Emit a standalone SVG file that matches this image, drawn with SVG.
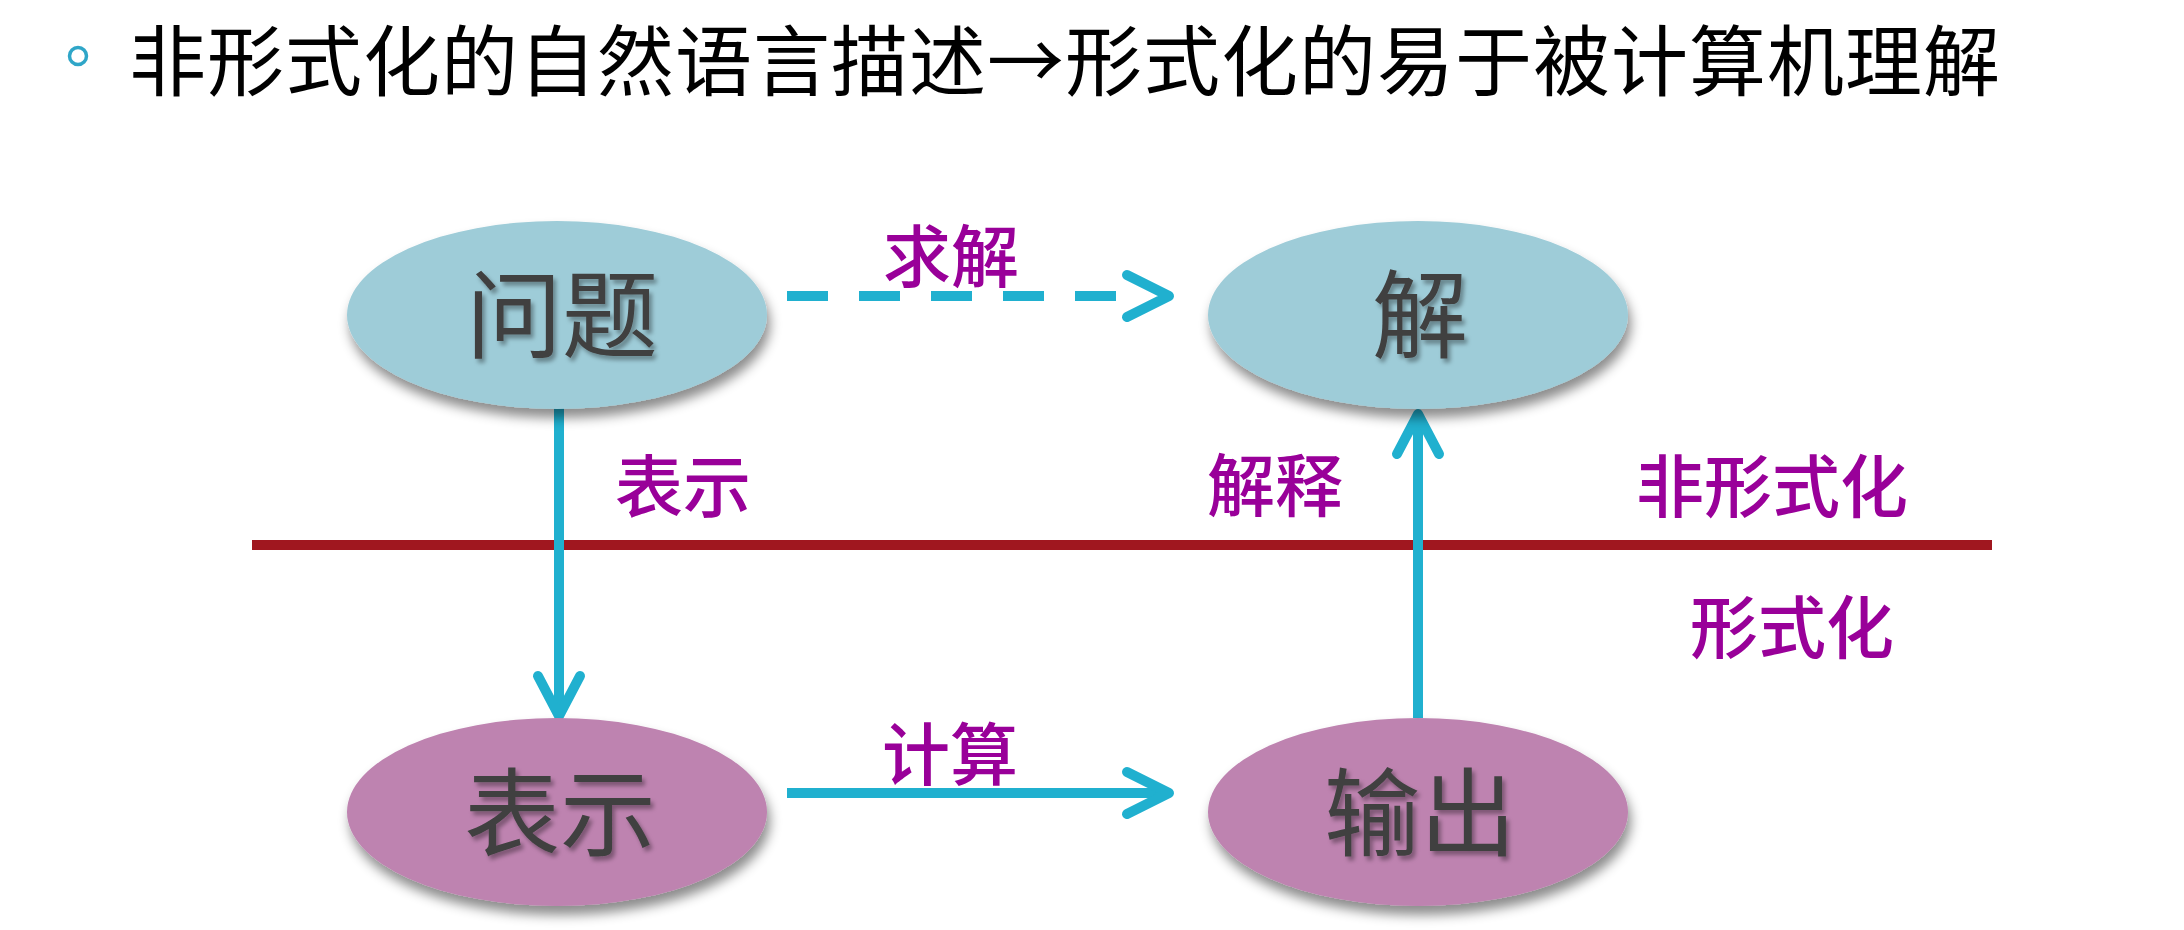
<svg xmlns="http://www.w3.org/2000/svg" width="2184" height="930" viewBox="0 0 2184 930">
  <defs>
    <filter id="shadow" x="-20%" y="-20%" width="140%" height="150%">
      <feDropShadow dx="3" dy="9" stdDeviation="6" flood-color="#000" flood-opacity="0.45"/>
    </filter>
    <filter id="tshadow" x="-10%" y="-10%" width="130%" height="130%">
      <feDropShadow dx="3" dy="4" stdDeviation="2" flood-color="#000" flood-opacity="0.35"/>
    </filter>
  </defs>
  <style>
    .cjk { font-family: "Noto Sans CJK SC", "Noto Sans", sans-serif; }
    .title { font-size: 77px; fill: #000; letter-spacing: 1px; }
    .node-blue { fill: #9ECCD8; filter: url(#shadow); }
    .node-purple { fill: #BE83B0; filter: url(#shadow); }
    .node-text { font-size: 96px; fill: #404040; text-anchor: middle; filter: url(#tshadow); }
    .label { font-size: 68px; font-weight: 500; fill: #990099; text-anchor: middle; }
    .line { stroke: #20B0CF; stroke-width: 10; fill: none; }
    .dash { stroke-dasharray: 41 31; }
    .head { stroke: #20B0CF; stroke-width: 10; fill: none; stroke-linecap: round; stroke-linejoin: round; }
    .divider { stroke: #A0171F; stroke-width: 10; }
  </style>
  <rect width="2184" height="930" fill="#fff"/>

  <g id="title">
    <circle cx="78" cy="56" r="8.5" fill="none" stroke="#2FA6C8" stroke-width="3.5"/>
    <text class="cjk title" x="129" y="90">非形式化的自然语言描述→形式化的易于被计算机理解</text>
  </g>

  <line id="divider" class="divider" x1="252" y1="545" x2="1992" y2="545"/>

  <g id="connectors">
    <g id="edge-solve">
      <path class="line dash" d="M787 296 H1116"/>
      <path class="head" d="M1127 275 L1169 296 L1127 317"/>
    </g>
    <g id="edge-represent">
      <path class="line" d="M559 408 V712"/>
      <path class="head" d="M538 676 L559 716 L580 676"/>
    </g>
    <g id="edge-compute">
      <path class="line" d="M787 793 H1164"/>
      <path class="head" d="M1127 772 L1169 793 L1127 814"/>
    </g>
    <g id="edge-interpret">
      <path class="line" d="M1418 718 V418"/>
      <path class="head" d="M1397 454 L1418 414 L1439 454"/>
    </g>
  </g>

  <g id="node-problem">
    <ellipse class="node-blue" cx="557" cy="315" rx="210" ry="94"/>
    <text class="cjk node-text" x="562" y="350">问题</text>
  </g>
  <g id="node-solution">
    <ellipse class="node-blue" cx="1418" cy="315" rx="210" ry="94"/>
    <text class="cjk node-text" x="1420" y="350">解</text>
  </g>
  <g id="node-representation">
    <ellipse class="node-purple" cx="557" cy="812" rx="210" ry="94"/>
    <text class="cjk node-text" x="560" y="848">表示</text>
  </g>
  <g id="node-output">
    <ellipse class="node-purple" cx="1418" cy="812" rx="210" ry="94"/>
    <text class="cjk node-text" x="1420" y="848">输出</text>
  </g>

  <g id="labels">
    <text class="cjk label" x="951" y="282">求解</text>
    <text class="cjk label" x="683" y="512">表示</text>
    <text class="cjk label" x="1275" y="511">解释</text>
    <text class="cjk label" x="1772" y="512">非形式化</text>
    <text class="cjk label" x="1792" y="653">形式化</text>
    <text class="cjk label" x="950" y="780">计算</text>
  </g>
</svg>
